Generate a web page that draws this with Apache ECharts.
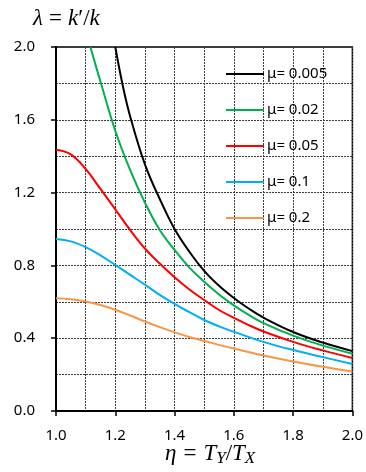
<!DOCTYPE html>
<html>
<head>
<meta charset="utf-8">
<script src="https://cdn.jsdelivr.net/npm/echarts@6/dist/echarts.min.js"></script>
<style>
  html, body { margin: 0; padding: 0; background: #fff; }
  #chart { width: 366px; height: 472px; }
</style>
</head>
<body>
<div id="chart"></div>
<script>
// Stiffness ratio λ = k'/k against period ratio η = T_Y/T_X, one curve per μ
const muLabels = ['μ= 0.005', 'μ= 0.02', 'μ= 0.05', 'μ= 0.1', 'μ= 0.2'];
const lineColors = ['#000000', '#00B050', '#FF0000', '#00B0F0', '#F79646'];

// [η, λ] pairs
const curveMu0005 = [
  [1.2, 2.0], [1.225, 1.79], [1.25, 1.62], [1.3, 1.355], [1.35, 1.165], [1.4, 1.0],
  [1.45, 0.875], [1.5, 0.77], [1.55, 0.688], [1.6, 0.621], [1.65, 0.563], [1.7, 0.513],
  [1.8, 0.434], [1.9, 0.376], [2.0, 0.329]
];
const curveMu002 = [
  [1.116, 2.0], [1.15, 1.81], [1.2, 1.54], [1.25, 1.325], [1.3, 1.145], [1.35, 0.995],
  [1.4, 0.885], [1.45, 0.788], [1.5, 0.71], [1.55, 0.64], [1.6, 0.58], [1.65, 0.528],
  [1.7, 0.483], [1.8, 0.414], [1.9, 0.359], [2.0, 0.315]
];
const curveMu005 = [
  [1.0, 1.436], [1.05, 1.41], [1.1, 1.33], [1.15, 1.22], [1.2, 1.108], [1.25, 0.995],
  [1.3, 0.893], [1.35, 0.81], [1.4, 0.735], [1.45, 0.668], [1.5, 0.61], [1.55, 0.555],
  [1.6, 0.512], [1.65, 0.472], [1.7, 0.437], [1.8, 0.38], [1.9, 0.333], [2.0, 0.291]
];
const curveMu01 = [
  [1.0, 0.945], [1.05, 0.932], [1.1, 0.90], [1.15, 0.855], [1.2, 0.802], [1.25, 0.748],
  [1.3, 0.694], [1.35, 0.638], [1.4, 0.588], [1.45, 0.543], [1.5, 0.50], [1.55, 0.465],
  [1.6, 0.435], [1.7, 0.38], [1.8, 0.335], [1.9, 0.296], [2.0, 0.258]
];
const curveMu02 = [
  [1.0, 0.619], [1.05, 0.614], [1.1, 0.602], [1.15, 0.582], [1.2, 0.556], [1.25, 0.525],
  [1.3, 0.492], [1.35, 0.461], [1.4, 0.432], [1.45, 0.407], [1.5, 0.385], [1.6, 0.343],
  [1.7, 0.305], [1.8, 0.272], [1.9, 0.243], [2.0, 0.217]
];
const curves = [curveMu0005, curveMu002, curveMu005, curveMu01, curveMu02];

// axis ranges: [min, max, labelled step]
const etaRange = [1.0, 2.0, 0.2];
const lambdaRange = [0.0, 2.0, 0.4];

const labelFont = '"Noto Sans", "Liberation Sans", sans-serif';
const mathFont = '"Liberation Serif", "DejaVu Serif", serif';
const gridDash = { color: '#3a3a3a', width: 1, type: [2, 1] };

const chart = echarts.init(document.getElementById('chart'), null, { renderer: 'canvas' });

chart.setOption({
  animation: false,
  backgroundColor: '#fff',
  grid: {
    left: 56, right: 11, top: 47, bottom: 61,
    show: true, borderColor: '#000', borderWidth: 1.5, backgroundColor: 'transparent'
  },
  legend: {
    orient: 'vertical',
    left: 221, top: 61,
    icon: 'rect',
    itemWidth: 38, itemHeight: 2, itemGap: 20,
    textStyle: { color: '#000', fontSize: 15, lineHeight: 16, fontFamily: labelFont, padding: [0, 0, 0, -2] },
    data: muLabels
  },
  xAxis: {
    type: 'value',
    min: etaRange[0], max: etaRange[1], interval: etaRange[2],
    axisLine: { show: true, lineStyle: { color: '#000', width: 2 } },
    axisTick: { show: true, inside: false, length: 5, lineStyle: { color: '#000', width: 1.5 } },
    axisLabel: {
      color: '#000', fontSize: 15, fontFamily: labelFont, margin: 17,
      formatter: v => v.toFixed(1)
    },
    splitLine: { show: true, lineStyle: gridDash },
    minorTick: { show: false, splitNumber: 2 },
    minorSplitLine: { show: true, lineStyle: gridDash }
  },
  yAxis: {
    type: 'value',
    min: lambdaRange[0], max: lambdaRange[1], interval: lambdaRange[2],
    axisLine: { show: true, lineStyle: { color: '#000', width: 2 } },
    axisTick: { show: true, inside: false, length: 5, lineStyle: { color: '#000', width: 1.5 } },
    axisLabel: {
      color: '#000', fontSize: 15, fontFamily: labelFont, margin: 21,
      formatter: v => v.toFixed(1)
    },
    splitLine: { show: true, lineStyle: gridDash },
    minorTick: { show: false, splitNumber: 2 },
    minorSplitLine: { show: true, lineStyle: gridDash }
  },
  graphic: [
    {
      type: 'text', left: 33, top: 7, z: 10,
      style: {
        text: '{i|λ}{e|=}{i|k}′/{i|k}',
        fill: '#000',
        font: '23px ' + mathFont,
        rich: {
          i: { fontStyle: 'italic', fontSize: 23, fontFamily: mathFont },
          e: { fontSize: 23, fontFamily: mathFont, padding: [0, 6, 0, 6] }
        }
      }
    },
    {
      type: 'text', left: 165, top: 442, z: 10,
      style: {
        text: '{i|η}{e|=}{i|T}{s|Y}/{i|T}{s|X}',
        fill: '#000',
        font: '23px ' + mathFont,
        rich: {
          i: { fontStyle: 'italic', fontSize: 23, fontFamily: mathFont, lineHeight: 28 },
          e: { fontSize: 23, fontFamily: mathFont, lineHeight: 28, padding: [0, 7, 0, 7] },
          s: { fontStyle: 'italic', fontSize: 17, fontFamily: mathFont, lineHeight: 16, verticalAlign: 'bottom' }
        }
      }
    }
  ],
  series: curves.map((pts, i) => ({
    name: muLabels[i],
    type: 'line',
    data: pts,
    smooth: 0.4,
    symbol: 'none',
    clip: true,
    lineStyle: { color: lineColors[i], width: 2 },
    itemStyle: { color: lineColors[i] },
    z: 5 - i
  }))
});
</script>
</body>
</html>
